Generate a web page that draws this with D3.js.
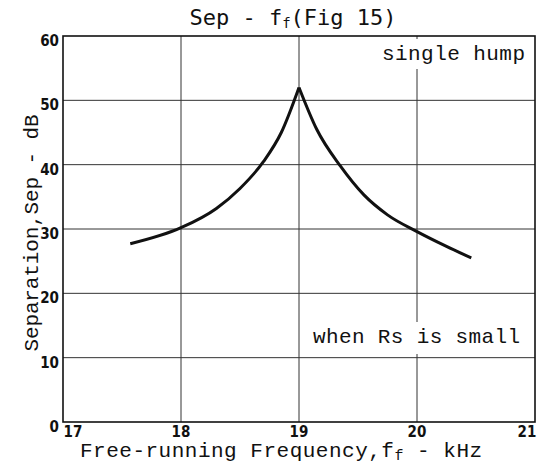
<!DOCTYPE html>
<head>
    <script src="https://d3js.org/d3.v7.min.js"></script>
    <style>
        body { margin: 0; background: #fff; }
        .grid line { stroke: #333; stroke-width: 1px; }
        .tick-label { font-family: "DejaVu Sans Condensed", "DejaVu Sans", sans-serif; font-weight: bold; font-size: 15px; fill: #111; }
        .mono { font-family: "Liberation Mono", "Courier New", monospace; fill: #111; }
    </style>
</head>
<body>
<script>
    // Curve, split at the cusp (19 kHz)
    var leftFreq = [17.57, 18.0, 18.3, 18.5, 18.7, 18.85, 19.0];
    var leftSep = [27.7, 30.2, 33.2, 36.3, 40.5, 45.0, 52.0];
    var rightFreq = [19.0, 19.15, 19.35, 19.55, 19.75, 20.0, 20.25, 20.46];
    var rightSep = [52.0, 45.5, 39.8, 35.3, 32.2, 29.6, 27.3, 25.5];

    var xTicks = [17, 18, 19, 20, 21];
    var yTicks = [0, 10, 20, 30, 40, 50, 60];

    var W = 541, H = 469;
    var x = d3.scaleLinear().domain([17, 21]).range([63, 535]);
    var y = d3.scaleLinear().domain([0, 60]).range([422, 36]);

    var svg = d3.select("body").append("svg")
        .attr("width", W).attr("height", H);

    // grid
    var grid = svg.append("g").attr("class", "grid");
    grid.selectAll("line.v").data(xTicks.slice(1, -1)).enter().append("line")
        .attr("x1", function (d) { return x(d); }).attr("x2", function (d) { return x(d); })
        .attr("y1", y(60)).attr("y2", y(0));
    grid.selectAll("line.h").data(yTicks.slice(1, -1)).enter().append("line")
        .attr("x1", x(17)).attr("x2", x(21))
        .attr("y1", function (d) { return y(d); }).attr("y2", function (d) { return y(d); });

    // white boxes behind the notes
    svg.append("rect").attr("x", 376).attr("y", y(60) + 3).attr("width", x(21) - 378).attr("height", 30).attr("fill", "#fff");
    svg.append("rect").attr("x", 306).attr("y", 322).attr("width", x(21) - 308).attr("height", 32).attr("fill", "#fff");

    // frame
    svg.append("rect")
        .attr("x", x(17)).attr("y", y(60))
        .attr("width", x(21) - x(17)).attr("height", y(0) - y(60))
        .attr("fill", "none").attr("stroke", "#111").attr("stroke-width", 1.6);

    // tick labels
    svg.selectAll("text.xt").data(xTicks).enter().append("text")
        .attr("class", "tick-label")
        .attr("x", function (d, i) { return x(d) + (i == 0 ? 10 : i == xTicks.length - 1 ? -8 : 0); })
        .attr("y", 437)
        .attr("text-anchor", "middle")
        .text(function (d) { return d; });
    svg.selectAll("text.yt").data(yTicks).enter().append("text")
        .attr("class", "tick-label")
        .attr("x", 59)
        .attr("y", function (d) { return y(d) + 10; })
        .attr("text-anchor", "end")
        .text(function (d) { return d; });

    // the curve, each side monotone so the peak stays a cusp
    var line = d3.line()
        .x(function (d) { return x(d[0]); })
        .y(function (d) { return y(d[1]); })
        .curve(d3.curveMonotoneX);
    [[leftFreq, leftSep], [rightFreq, rightSep]].forEach(function (s) {
        svg.append("path")
            .datum(d3.zip(s[0], s[1]))
            .attr("d", line)
            .attr("fill", "none").attr("stroke", "#111")
            .attr("stroke-width", 3);
    });

    // title
    var title = svg.append("text")
        .attr("x", 293).attr("y", 25)
        .attr("text-anchor", "middle")
        .style("font-family", "'DejaVu Sans Mono', monospace")
        .style("font-size", "22px").attr("fill", "#111");
    title.append("tspan").text("Sep - f");
    title.append("tspan").attr("font-size", "14px").attr("dy", 3).text("f");
    title.append("tspan").attr("dy", -3).text("(Fig 15)");

    // notes
    svg.append("text").attr("class", "mono").attr("x", 382).attr("y", 60)
        .style("font-size", "21px").attr("textLength", 143).text("single hump");
    svg.append("text").attr("class", "mono").attr("x", 313).attr("y", 343)
        .style("font-size", "21px").attr("textLength", 207).text("when Rs is small");

    // axis titles
    var xl = svg.append("text").attr("class", "mono")
        .attr("x", 80).attr("y", 457)
        .style("font-size", "21px").style("letter-spacing", "0.5px");
    xl.append("tspan").text("Free-running Frequency,f");
    xl.append("tspan").attr("font-size", "15px").attr("dy", 3).text("f");
    xl.append("tspan").attr("dy", -3).text(" - kHz");

    svg.append("text").attr("class", "mono")
        .attr("transform", "translate(38,233) rotate(-90)")
        .attr("text-anchor", "middle")
        .style("font-size", "21px")
        .attr("textLength", 237)
        .text("Separation,Sep - dB");
</script>
</body>
